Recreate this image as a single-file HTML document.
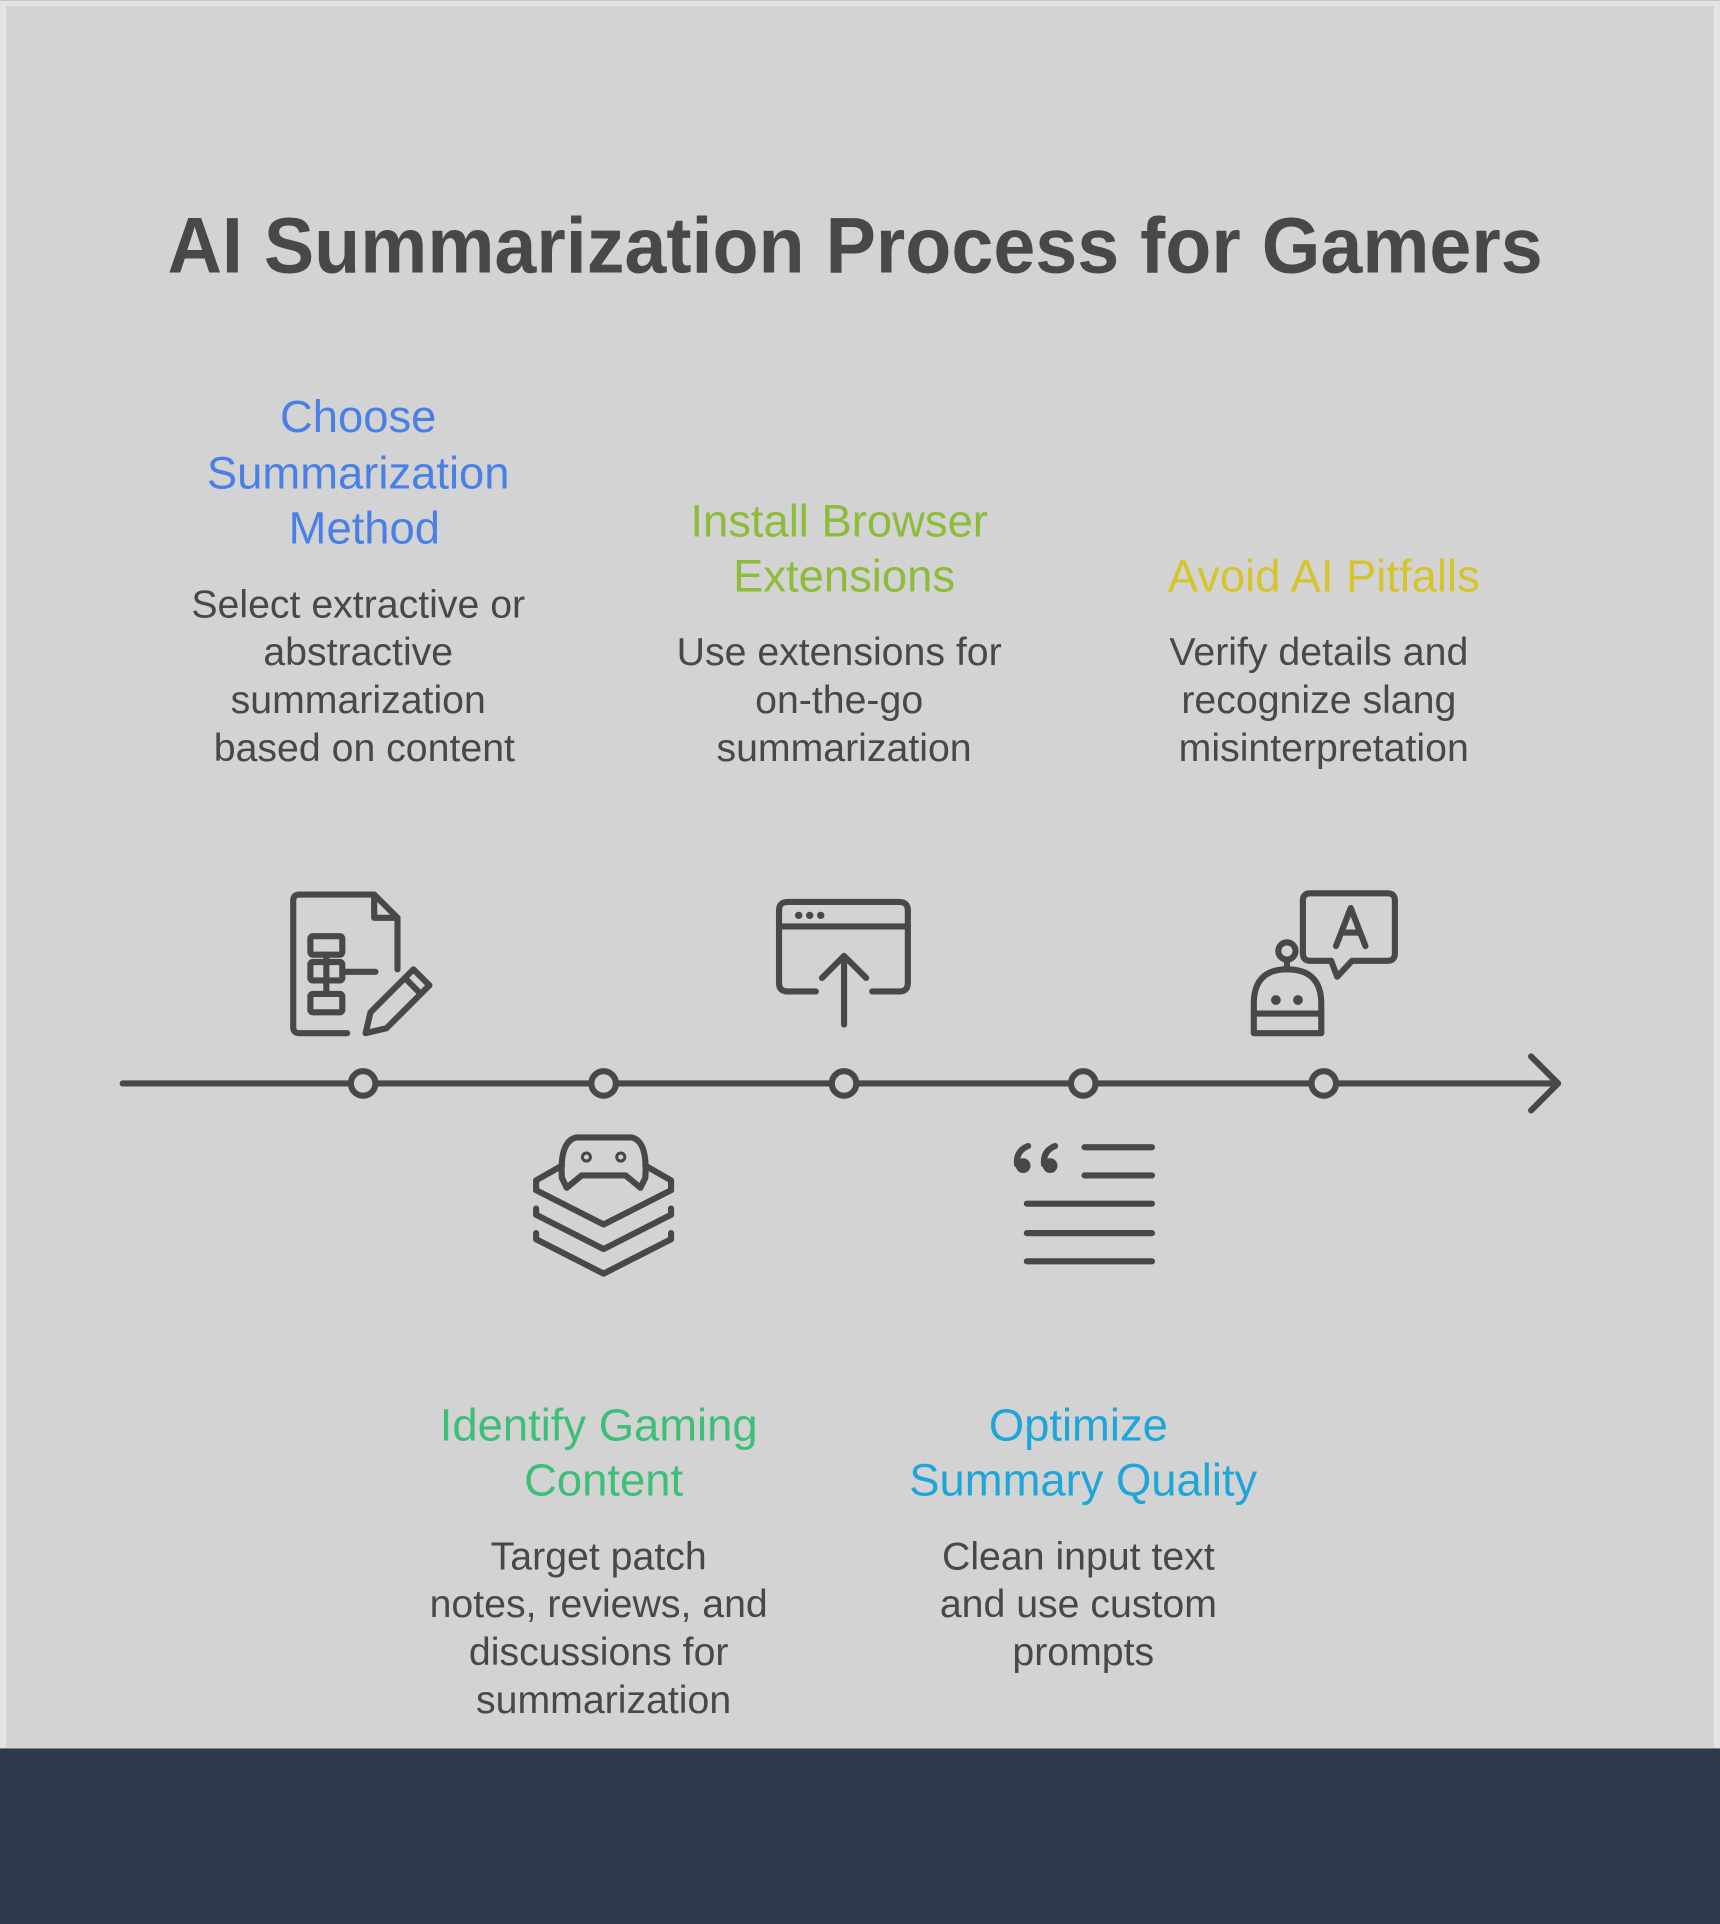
<!DOCTYPE html>
<html><head><meta charset="utf-8"><style>
html,body{margin:0;padding:0;background:#2d3b4d;}
svg{display:block;}
text{font-family:"Liberation Sans",sans-serif;}
</style></head><body>
<svg width="1720" height="1924" viewBox="0 0 1402 1568" xmlns="http://www.w3.org/2000/svg">
<rect x="0" y="0" width="1402" height="1568" fill="#2d3b4d"/>
<rect x="0" y="0" width="1402" height="1425" fill="#e4e4e4"/>
<rect x="5" y="5" width="1392" height="1420" fill="#d3d3d3"/>
<text x="697" y="222" text-anchor="middle" font-size="64" font-weight="bold" fill="#484848" textLength="1121" lengthAdjust="spacingAndGlyphs">AI Summarization Process for Gamers</text>

<g font-size="37" text-anchor="middle">
<text x="292" y="352" fill="#4a80e6">Choose</text>
<text x="292" y="398" fill="#4a80e6">Summarization</text>
<text x="297" y="443" fill="#4a80e6">Method</text>
<text x="684" y="437" fill="#8dbb3a">Install Browser</text>
<text x="688" y="482" fill="#8dbb3a">Extensions</text>
<text x="1079" y="482" fill="#d6c52a">Avoid AI Pitfalls</text>
<text x="488" y="1174" fill="#3dbf77">Identify Gaming</text>
<text x="492" y="1219" fill="#3dbf77">Content</text>
<text x="879" y="1174" fill="#1fa6d8">Optimize</text>
<text x="883" y="1219" fill="#1fa6d8">Summary Quality</text>
</g>
<g font-size="32" text-anchor="middle" fill="#484848">
<text x="292" y="503">Select extractive or</text>
<text x="292" y="542">abstractive</text>
<text x="292" y="581">summarization</text>
<text x="297" y="620">based on content</text>
<text x="684" y="542">Use extensions for</text>
<text x="684" y="581">on-the-go</text>
<text x="688" y="620">summarization</text>
<text x="1075" y="542">Verify details and</text>
<text x="1075" y="581">recognize slang</text>
<text x="1079" y="620">misinterpretation</text>
<text x="488" y="1279">Target patch</text>
<text x="488" y="1318">notes, reviews, and</text>
<text x="488" y="1357">discussions for</text>
<text x="492" y="1396">summarization</text>
<text x="879" y="1279">Clean input text</text>
<text x="879" y="1318">and use custom</text>
<text x="883" y="1357">prompts</text>
</g>

<g stroke="#484848" stroke-width="5" fill="none" stroke-linecap="round" stroke-linejoin="round">
<line x1="100" y1="883" x2="1270" y2="883"/>
<polyline points="1248,861 1270,883 1248,905"/>
<g fill="#d3d3d3">
<circle cx="296" cy="883" r="10"/><circle cx="492" cy="883" r="10"/><circle cx="688" cy="883" r="10"/><circle cx="883" cy="883" r="10"/><circle cx="1079" cy="883" r="10"/>
</g>
<path d="M283,842 H244 Q239,842 239,837 V734 Q239,729 244,729 H305 L324,748 V790"/>
<path d="M305,729 V748 H324"/>
<rect x="253" y="763" width="26" height="15" rx="2"/>
<rect x="253" y="784" width="26" height="15" rx="2"/>
<rect x="253" y="810" width="26" height="15" rx="2"/>
<path d="M266,778 V810 M279,792 H306"/>
<path d="M298,842 L302,825 L337,790 L350,803 L315,838 Z M330,797 L343,810"/>
<path d="M665,808 H642 Q635,808 635,801 V742 Q635,735 642,735 H733 Q740,735 740,742 V801 Q740,808 733,808 H711"/>
<line x1="635" y1="755" x2="740" y2="755"/>
<line x1="688" y1="835" x2="688" y2="780"/>
<polyline points="670,797 688,779 706,797"/>
<path d="M1085,783 H1068 Q1062,783 1062,777 V734 Q1062,728 1068,728 H1131 Q1137,728 1137,734 V777 Q1137,783 1131,783 H1102 L1090,796 Z"/>
<path d="M1089,771 L1101,740 L1113,771 M1094,760 H1108"/>
<circle cx="1049" cy="775" r="7"/>
<line x1="1049" y1="782" x2="1049" y2="790"/>
<path d="M1022,842 V818 Q1022,790 1049,790 Q1077,790 1077,818 V842 Z"/>
<line x1="1022" y1="826" x2="1077" y2="826"/>
<path d="M462,968 L458,960 Q456,930 470,927 H515 Q528,930 526,960 L522,968 L510,958 H474 Z" fill="#d3d3d3"/>
<path d="M458,950 L437,962 V970 L492,998 L547,970 V962 L526,950"/>
<path d="M437,985 V990 L492,1018 L547,990 V985"/>
<path d="M437,1005 V1010 L492,1038 L547,1010 V1005"/>
<path d="M884,935 H939 M884,958 H939 M837,981 H939 M837,1005 H939 M837,1028 H939"/>
</g>
<g fill="#484848">
<circle cx="651" cy="746" r="3"/><circle cx="660" cy="746" r="3"/><circle cx="669" cy="746" r="3"/>
<circle cx="1040" cy="815" r="4"/><circle cx="1058" cy="815" r="4"/>
<circle cx="478" cy="943" r="4.5"/><circle cx="506" cy="943" r="4.5"/>
<circle cx="834" cy="950" r="6"/><circle cx="856" cy="950" r="6"/>
</g>
<g stroke="#484848" stroke-width="5" fill="none" stroke-linecap="round">
<path d="M829,949 Q828,938 838,934"/>
<path d="M851,949 Q850,938 860,934"/>
</g>
<g fill="#d3d3d3"><circle cx="478" cy="943" r="2"/><circle cx="506" cy="943" r="2"/></g>
</svg>
</body></html>
